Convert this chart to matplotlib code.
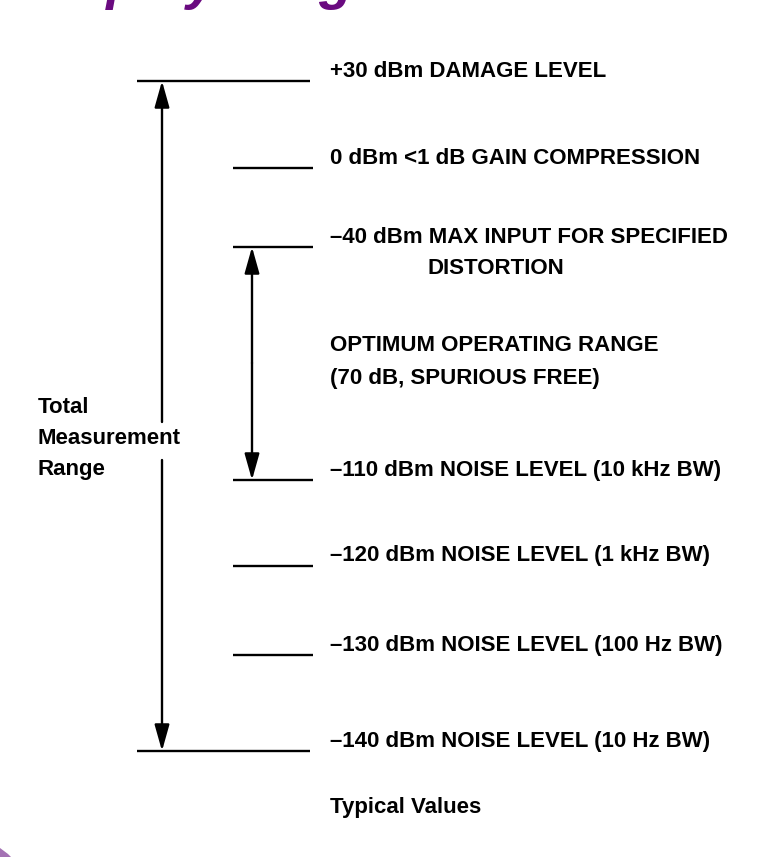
import matplotlib
matplotlib.use("Agg")
import matplotlib.pyplot as plt
from matplotlib.patches import Polygon

plt.rcParams['font.family'] = ['Liberation Sans', 'DejaVu Sans']

# level labels and their vertical place on the diagram (pixel rows)
levels = ["+30 dBm DAMAGE LEVEL",
          "0 dBm <1 dB GAIN COMPRESSION",
          "\u201340 dBm MAX INPUT FOR SPECIFIED",
          "\u2013110 dBm NOISE LEVEL (10 kHz BW)",
          "\u2013120 dBm NOISE LEVEL (1 kHz BW)",
          "\u2013130 dBm NOISE LEVEL (100 Hz BW)",
          "\u2013140 dBm NOISE LEVEL (10 Hz BW)"]
level_y = [81, 168, 247, 480, 566, 655, 751]
long_tick = [True, False, False, False, False, False, True]

optimum_lines = ["OPTIMUM OPERATING RANGE", "(70 dB, SPURIOUS FREE)"]
total_lines = ["Total", "Measurement", "Range"]

purple = "#6a0a80"
fs = 16

fig = plt.figure(figsize=(7.84, 8.57), dpi=100)
ax = fig.add_axes([0, 0, 1, 1])
ax.set_xlim(0, 784)
ax.set_ylim(857, 0)
ax.axis("off")

# title, cut off by the top edge like in the source page
ax.text(20, -2, "Display range and measurement range", fontsize=40,
        fontweight="bold", style="italic", color=purple,
        va="baseline", ha="left")

# level ticks + labels
for lab, y, lng in zip(levels, level_y, long_tick):
    x0, x1 = (137, 310) if lng else (233, 313)
    ax.plot([x0, x1], [y, y], color="black", lw=1.7, solid_capstyle="butt")
    ax.text(330, y - 10, lab, fontsize=fs, fontweight="bold", va="center", ha="left")

ax.text(428, level_y[2] + 21, "DISTORTION", fontsize=fs, fontweight="bold",
        va="center", ha="left")

for i, t in enumerate(optimum_lines):
    ax.text(330, 345 + 33 * i, t, fontsize=fs, fontweight="bold", va="center", ha="left")

ax.text(330, 808, "Typical Values", fontsize=fs, fontweight="bold", va="center", ha="left")

for i, t in enumerate(total_lines):
    ax.text(38, 407 + 31 * i, t, fontsize=fs, fontweight="bold", va="center", ha="left")

# arrows
akw = dict(arrowstyle="-|>,head_length=1.6,head_width=0.45", color="black", lw=1.7,
           shrinkA=0, shrinkB=0)
ax.annotate("", xy=(162, level_y[0]), xytext=(162, 422), arrowprops=akw)
ax.annotate("", xy=(162, level_y[-1]), xytext=(162, 460), arrowprops=akw)
ax.annotate("", xy=(252, level_y[2]), xytext=(252, 363), arrowprops=akw)
ax.annotate("", xy=(252, level_y[3]), xytext=(252, 363), arrowprops=akw)

# corner of the purple panel, bottom left
ax.add_patch(Polygon([(0, 848), (4, 851), (8, 854), (11, 857), (0, 857)],
                     closed=True, color="#a472b4", lw=0))

fig.savefig("out.png", dpi=100)
